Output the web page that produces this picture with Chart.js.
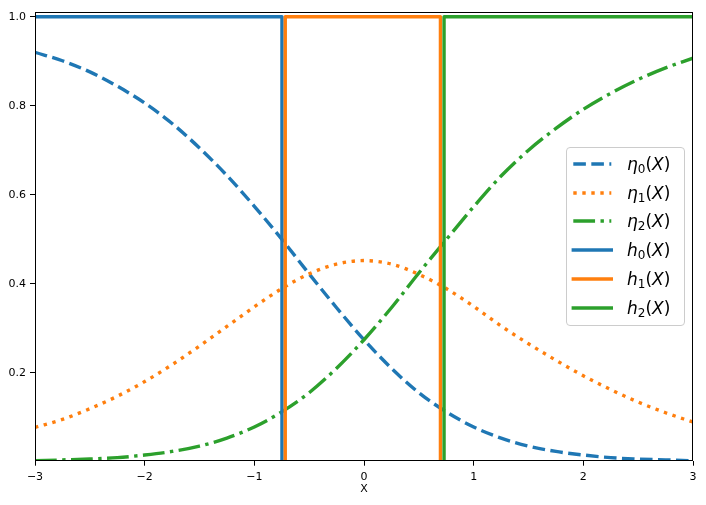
<!DOCTYPE html>
<html>
<head>
<meta charset="utf-8">
<script src="https://cdn.jsdelivr.net/npm/chart.js@4.4.0/dist/chart.umd.min.js"></script>
<style>
  html, body { margin: 0; padding: 0; background: #fff; }
  #wrap { position: relative; width: 706px; height: 505px; }
  #legend {
    position: absolute; left: 566px; top: 147px; width: 117px; height: 177px;
    border: 1px solid #cccccc; border-radius: 4px; background: rgba(255,255,255,0.8);
    font-family: 'DejaVu Sans', sans-serif; font-size: 17px; color: #000;
  }
  .row { position: absolute; left: 0; width: 117px; height: 24px; }
  .row svg { position: absolute; left: 0; top: 0; }
  .lab { position: absolute; left: 60px; top: 0; line-height: 24px; white-space: nowrap; }
  .lab i { font-style: italic; }
  .lab sub { font-size: 12px; vertical-align: -3px; line-height: 0; }
</style>
</head>
<body>
<div id="wrap">
  <canvas id="myChart" width="706" height="505"></canvas>
  <div id="legend"></div>
</div>
<script>
// valori
const xs = [-3, -2.75, -2.5, -2.25, -2, -1.75, -1.5, -1.25, -1, -0.75, -0.5, -0.25,
  0, 0.25, 0.5, 0.75, 1, 1.25, 1.5, 1.75, 2, 2.25, 2.5, 2.75, 3]
const eta0 = [0.920, 0.901, 0.876, 0.844, 0.806, 0.760, 0.705, 0.643, 0.574, 0.500, 0.422, 0.346,
  0.274, 0.210, 0.155, 0.112, 0.078, 0.053, 0.035, 0.023, 0.015, 0.009, 0.006, 0.004, 0.002]
const eta1 = [0.077, 0.095, 0.119, 0.147, 0.180, 0.218, 0.260, 0.304, 0.348, 0.389, 0.422, 0.444,
  0.452, 0.444, 0.421, 0.389, 0.349, 0.305, 0.265, 0.228, 0.193, 0.162, 0.134, 0.110, 0.089]
const eta2 = [0.002, 0.004, 0.006, 0.009, 0.015, 0.023, 0.035, 0.053, 0.078, 0.112, 0.155, 0.210,
  0.274, 0.346, 0.424, 0.499, 0.573, 0.642, 0.700, 0.749, 0.792, 0.828, 0.859, 0.885, 0.907]

// classificatori (funzioni a gradino)
const h0X = [-3, -0.748, -0.748, 3]
const h0Y = [1, 1, 0, 0]
const h1X = [-3, -0.718, -0.718, 0.697, 0.697, 3]
const h1Y = [0, 0, 1, 1, 0, 0]
const h2X = [-3, 0.730, 0.730, 3]
const h2Y = [0, 0, 1, 1]

const xTicks = [-3, -2, -1, 0, 1, 2, 3]
const yTicks = [0.2, 0.4, 0.6, 0.8, 1.0]
const seriesLabels = ['η_0(X)', 'η_1(X)', 'η_2(X)', 'h_0(X)', 'h_1(X)', 'h_2(X)']

const BLUE = '#1f77b4'
const ORANGE = '#ff7f0e'
const GREEN = '#2ca02c'
const LW = 3.4

const pts = (xa, ya) => xa.map((x, i) => ({ x: x, y: ya[i] }))

const curva = (label, data, color, dash, order) => ({
  label: label,
  data: data,
  borderColor: color,
  backgroundColor: color,
  borderWidth: LW,
  borderDash: dash,
  borderCapStyle: 'butt',
  cubicInterpolationMode: 'monotone',
  pointRadius: 0,
  fill: false,
  clip: 0,
  order: order,
})

const gradino = (label, data, color, order) => ({
  label: label,
  data: data,
  borderColor: color,
  backgroundColor: color,
  borderWidth: LW,
  borderCapStyle: 'square',
  borderJoinStyle: 'round',
  tension: 0,
  pointRadius: 0,
  fill: false,
  clip: 0,
  order: order,
})

// cornice degli assi sopra le linee
const cornice = {
  id: 'cornice',
  afterDatasetsDraw(chart) {
    const { ctx, chartArea } = chart
    const l = Math.round(chartArea.left) + 0.5
    const t = Math.round(chartArea.top) + 0.5
    const r = Math.round(chartArea.right) - 0.5
    const b = Math.round(chartArea.bottom) - 0.5
    ctx.save()
    ctx.strokeStyle = '#000'
    ctx.lineWidth = 1
    ctx.strokeRect(l, t, r - l, b - t)
    ctx.restore()
  },
}

const fontTick = { family: 'DejaVu Sans', size: 11 }

const ctx = document.getElementById('myChart').getContext('2d')

const myChart = new Chart(ctx, {
  type: 'line',
  data: {
    datasets: [
      curva('η0(X)', pts(xs, eta0), BLUE, [LW * 3.7, LW * 1.6], 6),
      curva('η1(X)', pts(xs, eta1), ORANGE, [LW * 1, LW * 1.65], 5),
      curva('η2(X)', pts(xs, eta2), GREEN, [LW * 6.4, LW * 1.6, LW * 1, LW * 1.6], 4),
      gradino('h0(X)', pts(h0X, h0Y), BLUE, 3),
      gradino('h1(X)', pts(h1X, h1Y), ORANGE, 2),
      gradino('h2(X)', pts(h2X, h2Y), GREEN, 1),
    ],
  },
  options: {
    responsive: false,
    animation: false,
    layout: { padding: { top: 12, right: 13, left: 0, bottom: 0 } },
    plugins: {
      legend: { display: false },
      tooltip: { enabled: false },
    },
    scales: {
      x: {
        type: 'linear',
        min: -3,
        max: 3,
        afterBuildTicks: (s) => { s.ticks = xTicks.map((v) => ({ value: v })) },
        afterFit: (s) => { s.height = 44.3 },
        ticks: {
          color: '#000',
          font: fontTick,
          padding: 5,
          maxRotation: 0,
          callback: (v) => (v < 0 ? '\u2212' : '') + Math.abs(v),
        },
        grid: { drawOnChartArea: false, drawTicks: true, tickLength: 5, color: '#000', tickColor: '#000' },
        border: { display: false },
        title: { display: true, text: 'X', color: '#000', font: fontTick, padding: { top: 0, bottom: 9.5 } },
      },
      y: {
        type: 'linear',
        min: 0.0022,
        max: 1.0106,
        afterBuildTicks: (s) => { s.ticks = yTicks.map((v) => ({ value: v })) },
        afterFit: (s) => { s.width = 35 },
        ticks: {
          color: '#000',
          font: fontTick,
          padding: 4,
          callback: (v) => v.toFixed(1),
        },
        grid: { drawOnChartArea: false, drawTicks: true, tickLength: 5, color: '#000', tickColor: '#000' },
        border: { display: false },
      },
    },
  },
  plugins: [cornice],
})

// legenda dentro il grafico
const formatta = (s) => {
  const m = s.match(/^(.)_(\d)\((.)\)$/)
  return '<i>' + m[1] + '</i><sub>' + m[2] + '</sub>(<i>' + m[3] + '</i>)'
}

const legendEl = document.getElementById('legend')
myChart.data.datasets.forEach((ds, i) => {
  const row = document.createElement('div')
  row.className = 'row'
  row.style.top = (16 + i * 28.7 - 12) + 'px'
  const tratteggio = ds.borderDash && ds.borderDash.length
    ? 'stroke-dasharray="' + ds.borderDash.join(' ') + '" stroke-linecap="butt"'
    : 'stroke-linecap="square"'
  row.innerHTML =
    '<svg width="52" height="24"><line x1="6.3" y1="12" x2="44.3" y2="12" stroke="' + ds.borderColor +
    '" stroke-width="' + LW + '" ' + tratteggio + '/></svg>' +
    '<span class="lab">' + formatta(seriesLabels[i]) + '</span>'
  legendEl.appendChild(row)
})
</script>
</body>
</html>
